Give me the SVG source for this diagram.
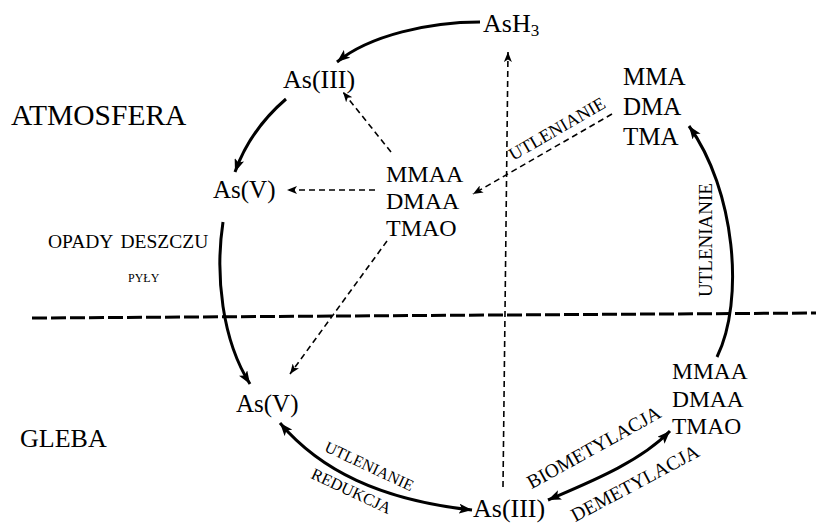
<svg xmlns="http://www.w3.org/2000/svg" width="816" height="526" viewBox="0 0 816 526">
<style>
text{font-family:"Liberation Serif","Times New Roman",serif;fill:#000}
.n{font-size:25px}
.lbl{font-size:18px}
.solid{fill:none;stroke:#000;stroke-width:3}
.dash{fill:none;stroke:#000;stroke-width:1.6;stroke-dasharray:6 4}
.sep{fill:none;stroke:#000;stroke-width:3;stroke-dasharray:15 4}
</style>
<defs>
<marker id="ah" markerUnits="userSpaceOnUse" markerWidth="14" markerHeight="10" refX="13" refY="5" orient="auto-start-reverse">
<path d="M0,0 L13,5 L0,10 L3,5 z" fill="#000"/>
</marker>
<marker id="ad" markerUnits="userSpaceOnUse" markerWidth="11" markerHeight="8" refX="10" refY="4" orient="auto">
<path d="M0,0 L10,4 L0,8 L2.5,4 z" fill="#000"/>
</marker>
</defs>
<rect width="816" height="526" fill="#fff"/>
<g id="regions">
<text x="11" y="125" style="font-size:29.5px">ATMOSFERA</text>
<text x="20" y="447" style="font-size:26px">GLEBA</text>
<path class="sep" d="M32,318 L816,313"/>
</g>
<g id="connectors">
<path class="solid" d="M480,22 C430,22 370,35 337,62" marker-end="url(#ah)"/>
<path class="solid" d="M286,99 Q250,130 235,172" marker-end="url(#ah)"/>
<path class="solid" d="M223,222 C215,275 222,340 250,384" marker-end="url(#ah)"/>
<path class="solid" d="M280,423 C320,470 380,500 472,510" marker-start="url(#ah)" marker-end="url(#ah)"/>
<path class="solid" d="M548,500 C590,482 640,462 670,431" marker-start="url(#ah)" marker-end="url(#ah)"/>
<path class="solid" d="M717,357 C745,300 735,190 689,126" marker-end="url(#ah)"/>
<path class="dash" d="M391,152 L343,92" marker-end="url(#ad)"/>
<path class="dash" d="M375,190 L287,190" marker-end="url(#ad)"/>
<path class="dash" d="M387,241 L290,374" marker-end="url(#ad)"/>
<path class="dash" d="M612,114 L473,194" marker-end="url(#ad)"/>
<path class="dash" d="M503,487 L508,52" marker-end="url(#ad)"/>
</g>
<g id="labels">
<text x="48" y="248" style="font-size:19.5px;word-spacing:3px">OPADY DESZCZU</text>
<text x="128" y="282" style="font-size:12px">PYŁY</text>
<text class="lbl" text-anchor="middle" transform="translate(560,134) rotate(-30)">UTLENIANIE</text>
<text text-anchor="middle" style="font-size:19px" transform="translate(712,240) rotate(-90)">UTLENIANIE</text>
<text text-anchor="middle" style="font-size:16px" transform="translate(367,471) rotate(25)">UTLENIANIE</text>
<text text-anchor="middle" style="font-size:16.5px" transform="translate(349,496) rotate(25)">REDUKCJA</text>
<text text-anchor="middle" style="font-size:19.5px" transform="translate(597,453) rotate(-29)">BIOMETYLACJA</text>
<text text-anchor="middle" style="font-size:19.5px" transform="translate(638,489) rotate(-28)">DEMETYLACJA</text>
</g>
<g id="node-ash3">
<text x="483" y="32" style="font-size:26px">AsH<tspan dy="4" style="font-size:17px">3</tspan></text>
</g>
<g id="node-as3-atm">
<text x="283" y="88" style="font-size:26px">As(III)</text>
</g>
<g id="node-as5-atm">
<text x="213" y="198" class="n">As(V)</text>
</g>
<g id="node-methyl-atm">
<text x="386" y="182" style="font-size:24px">MMAA</text>
<text x="386" y="209" style="font-size:24px">DMAA</text>
<text x="386" y="236" style="font-size:24px">TMAO</text>
</g>
<g id="node-methylarsines">
<text x="623" y="85" class="n">MMA</text>
<text x="623" y="115" class="n">DMA</text>
<text x="623" y="145" class="n">TMA</text>
</g>
<g id="node-as5-soil">
<text x="236" y="412" class="n">As(V)</text>
</g>
<g id="node-as3-soil">
<text x="473" y="517" style="font-size:26px">As(III)</text>
</g>
<g id="node-methyl-soil">
<text x="672" y="379" style="font-size:23.5px">MMAA</text>
<text x="672" y="407" style="font-size:23.5px">DMAA</text>
<text x="672" y="434" style="font-size:23.5px">TMAO</text>
</g>
</svg>
